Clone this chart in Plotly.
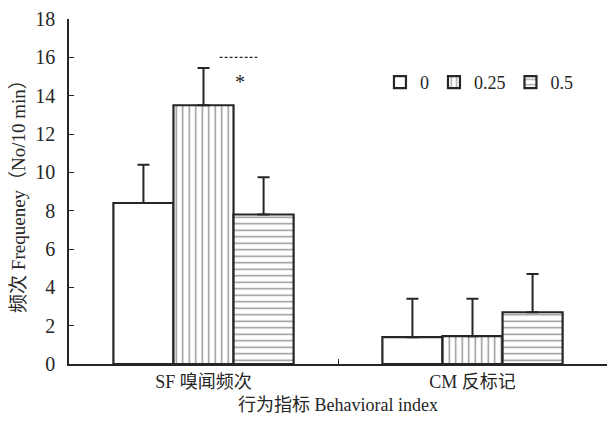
import plotly.graph_objects as go

# Behavioural indices and dose groups
categories = ["SF 嗅闻频次", "CM 反标记"]
doses = ["0", "0.25", "0.5"]
means = {
    "0": [8.4, 1.4],
    "0.25": [13.5, 1.45],
    "0.5": [7.8, 2.7],
}
errors = {
    "0": [2.0, 2.0],
    "0.25": [1.95, 1.95],
    "0.5": [1.95, 2.0],
}
y_ticks = [0, 2, 4, 6, 8, 10, 12, 14, 16, 18]

INK = "#262626"
SERIF = "Liberation Serif, Times New Roman, Noto Sans CJK SC, serif"
patterns = {"0": "", "0.25": "|", "0.5": "-"}

fig = go.Figure()
for d in doses:
    fig.add_trace(go.Bar(
        x=categories,
        y=means[d],
        name=d,
        marker=dict(
            color="white",
            line=dict(color=INK, width=2.2),
            pattern=dict(shape=patterns[d], fgcolor=INK, bgcolor="white",
                         size=6.5, solidity=0.22, fillmode="overlay"),
        ),
        error_y=dict(type="data", symmetric=False, array=errors[d],
                     arrayminus=[0, 0], color=INK, thickness=2, width=6),
    ))

# significance mark between the 0.25 and 0.5 groups of SF
fig.add_shape(type="line", xref="x", yref="y", x0=0.06, x1=0.2, y0=16, y1=16,
              line=dict(color=INK, width=1.2, dash="3px,2px"))
fig.add_annotation(x=0.135, y=14.7, xref="x", yref="y", text="*", showarrow=False,
                   font=dict(family=SERIF, size=20, color=INK))

fig.update_layout(
    width=607, height=422,
    margin=dict(l=69, r=0, t=19, b=58),
    paper_bgcolor="white", plot_bgcolor="white",
    barmode="group", bargap=0.33, bargroupgap=0,
    font=dict(family=SERIF, color=INK),
    showlegend=True,
    legend=dict(orientation="h", x=0.578, y=0.87, xanchor="left", yanchor="top",
                font=dict(family=SERIF, size=18, color=INK),
                itemwidth=30, bgcolor="rgba(0,0,0,0)", tracegroupgap=0),
    xaxis=dict(
        showline=True, linecolor=INK, linewidth=2, showgrid=False,
        ticks="inside", ticklen=5, tickcolor=INK, tickson="boundaries",
        tickfont=dict(family=SERIF, size=18, color=INK),
        title=dict(text="行为指标 Behavioral index", standoff=8,
                   font=dict(family=SERIF, size=18, color=INK)),
        range=[-0.5, 1.5],
    ),
    yaxis=dict(
        range=[0, 18], tickvals=y_ticks, showline=True, linecolor=INK, linewidth=1.5,
        showgrid=False, zeroline=False, ticks="inside", ticklen=5, tickcolor=INK,
        ticklabelstandoff=8,
        tickfont=dict(family=SERIF, size=20, color=INK),
        title=dict(text="频次 Frequeney（No/10 min）", standoff=5,
                   font=dict(family=SERIF, size=19, color=INK)),
    ),
)

fig.write_html("out.html")
